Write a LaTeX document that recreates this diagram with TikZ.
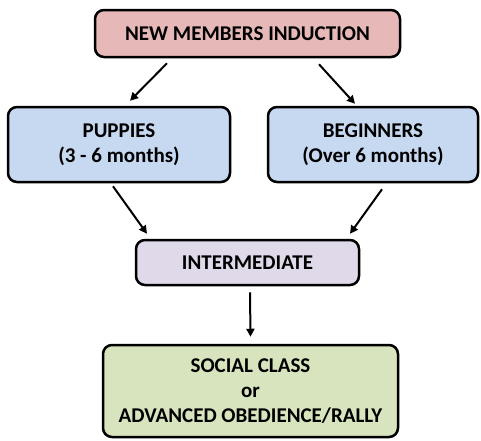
\documentclass[tikz,border=0pt]{standalone}
\usepackage{fontspec}
\setmainfont{Carlito}
\usetikzlibrary{arrows.meta}
\definecolor{pinkfill}{HTML}{E6B9B8}
\definecolor{bluefill}{HTML}{C6D9F1}
\definecolor{purplefill}{HTML}{E0D9EA}
\definecolor{greenfill}{HTML}{D7E4BD}
\tikzset{
  box/.style={draw=black, line width=2.5pt, rounded corners=9pt, align=center,
    font=\fontsize{21}{25}\selectfont\bfseries, inner sep=0pt},
  conn/.style={line width=2pt, -{Triangle[length=8pt,width=8pt]}}
}
\begin{document}
\begin{tikzpicture}[x=1pt,y=-1pt]
\useasboundingbox (0,0) rectangle (481,440);
\node[box, fill=pinkfill, minimum width=305pt, minimum height=47pt] (top) at (247.5,33.5) {NEW MEMBERS INDUCTION};
\node[box, fill=bluefill, minimum width=222pt, minimum height=75pt] (pup) at (119,144.5) {PUPPIES\\(3 - 6 months)};
\node[box, fill=bluefill, minimum width=210pt, minimum height=75pt] (beg) at (373,144.5) {BEGINNERS\\(Over 6 months)};
\node[box, fill=purplefill, minimum width=223pt, minimum height=45pt] (int) at (247.5,262.5) {INTERMEDIATE};
\node[box, fill=greenfill, minimum width=295pt, minimum height=92pt] (soc) at (250.5,391) {SOCIAL CLASS\\or\\ADVANCED OBEDIENCE/RALLY};
\draw[conn] ([xshift=-80.5pt,yshift=-5pt]top.south) -- ([xshift=11pt,yshift=5pt]pup.north);
\draw[conn] ([xshift=71.5pt,yshift=-6pt]top.south) -- ([xshift=-18pt,yshift=2pt]beg.north);
\draw[conn] ([xshift=-6pt,yshift=-3pt]pup.south) -- ([xshift=-100.5pt,yshift=5pt]int.north);
\draw[conn] ([xshift=9pt,yshift=-6pt]beg.south) -- ([xshift=102.5pt,yshift=5pt]int.north);
\draw[conn] ([xshift=2.5pt,yshift=-6pt]int.south) -- ([xshift=0pt,yshift=7pt]soc.north);
\end{tikzpicture}
\end{document}
